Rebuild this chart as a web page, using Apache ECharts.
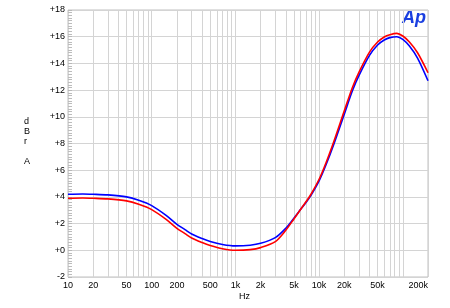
<!DOCTYPE html>
<html>
<head>
<meta charset="utf-8">
<script src="https://cdn.jsdelivr.net/npm/echarts@6/dist/echarts.min.js"></script>
<style>html,body{margin:0;padding:0;background:#fff}#c{width:450px;height:308px}</style>
</head>
<body>
<div id="c"></div>
<script>
var freqs = [10, 15, 20, 30, 50, 70, 100, 150, 200, 250, 300, 400, 500, 700, 1000, 1500, 2000, 3000, 4000, 5000, 6000, 7000, 8000, 10000, 12000, 15000, 20000, 25000, 30000, 40000, 50000, 60000, 70000, 85000, 100000, 120000, 150000, 200000];
var blueValues = [4.2, 4.22, 4.2, 4.15, 4.0, 3.75, 3.35, 2.6, 1.95, 1.55, 1.22, 0.88, 0.66, 0.44, 0.33, 0.38, 0.52, 0.95, 1.65, 2.4, 3.05, 3.6, 4.12, 5.2, 6.35, 7.95, 10.2, 11.95, 13.1, 14.6, 15.38, 15.75, 15.93, 16.0, 15.8, 15.3, 14.4, 12.7];
var redValues = [3.9, 3.92, 3.9, 3.85, 3.7, 3.45, 3.05, 2.3, 1.65, 1.25, 0.92, 0.58, 0.36, 0.12, 0.0, 0.05, 0.2, 0.65, 1.5, 2.35, 3.05, 3.65, 4.2, 5.32, 6.5, 8.15, 10.45, 12.2, 13.35, 14.85, 15.6, 15.98, 16.15, 16.25, 16.05, 15.6, 14.8, 13.3];
var xTickLabels = [10, 20, 50, 100, 200, 500, 1000, 2000, 5000, 10000, 20000, 50000, 200000];
var yMin = -2, yMax = 18, yStep = 2;

var gridFreqs = [];
[10, 100, 1000, 10000, 100000].forEach(function (d) {
  for (var k = 1; k <= 9; k++) { if (d * k <= 200000) gridFreqs.push(d * k); }
});

function fmtHz(v) {
  if (v >= 1000) return (v / 1000) + 'k';
  return String(v);
}
function pairs(vals) { return freqs.map(function (f, i) { return [f, vals[i]]; }); }

var chart = echarts.init(document.getElementById('c'));
chart.setOption({
  animation: false,
  backgroundColor: '#fff',
  grid: { left: 68, right: 22, top: 10, bottom: 31, show: true, borderColor: '#c0c0c0', borderWidth: 1 },
  xAxis: {
    type: 'log', logBase: 10, min: 10, max: 200000,
    axisLine: { show: false },
    axisTick: { show: false, customValues: gridFreqs },
    splitLine: { show: true, lineStyle: { color: '#d4d4d4', width: 1 } },
    axisLabel: {
      customValues: xTickLabels, formatter: fmtHz, fontSize: 9, color: '#000',
      fontFamily: 'Liberation Sans, Arial, sans-serif', margin: 4, alignMaxLabel: 'right'
    }
  },
  yAxis: {
    type: 'value', min: yMin, max: yMax, interval: yStep,
    axisLine: { show: false },
    axisTick: { show: true, inside: true, length: 4, lineStyle: { color: '#b8b8b8' } },
    minorTick: { show: true, splitNumber: 10, length: 4, lineStyle: { color: '#bcbcbc' } },
    splitLine: { show: true, lineStyle: { color: '#d4d4d4', width: 1 } },
    axisLabel: {
      formatter: function (v) { return (v >= 0 ? '+' : '') + v; },
      fontSize: 9, color: '#000', fontFamily: 'Liberation Sans, Arial, sans-serif', margin: 3
    }
  },
  graphic: [
    { type: 'text', left: 24, top: 117, style: { text: 'd\nB\nr\n\nA', fontSize: 9, lineHeight: 10, fill: '#000', fontFamily: 'Liberation Sans, Arial, sans-serif' } },
    { type: 'text', left: 239, top: 292, style: { text: 'Hz', fontSize: 9, fill: '#000', fontFamily: 'Liberation Sans, Arial, sans-serif' } },
    { type: 'text', left: 402, top: 9, style: { text: 'Ap', fontSize: 18, fontWeight: 'bold', fontStyle: 'italic', fill: '#1a3fe0', fontFamily: 'Liberation Sans, Arial, sans-serif' } }
  ],
  series: [
    { type: 'line', data: pairs(blueValues), smooth: 0.3, showSymbol: false, lineStyle: { color: '#0000ff', width: 1.6 }, z: 3 },
    { type: 'line', data: pairs(redValues), smooth: 0.3, showSymbol: false, lineStyle: { color: '#ff0000', width: 1.6 }, z: 4 }
  ]
});
</script>
</body>
</html>
